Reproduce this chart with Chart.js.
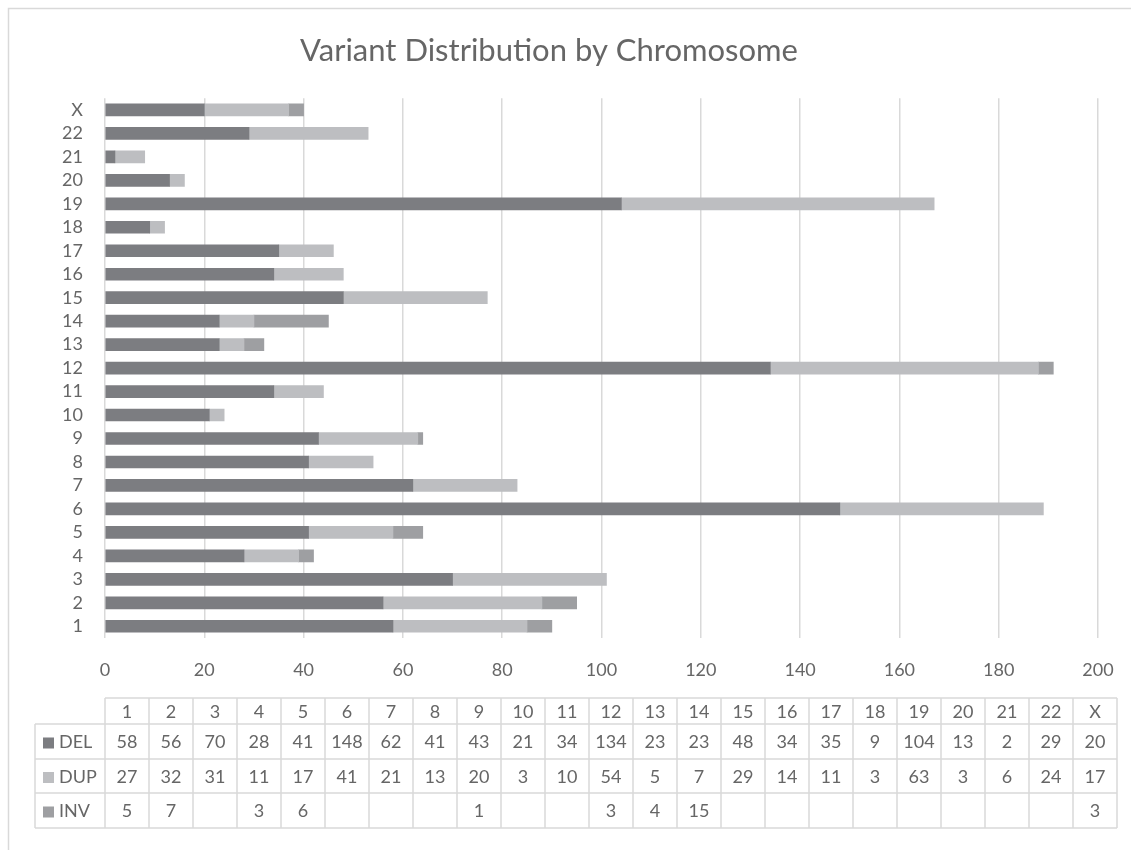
<!DOCTYPE html>
<html>
<head>
<meta charset="utf-8">
<script src="https://cdn.jsdelivr.net/npm/chart.js@4"></script>
<style>
    html, body { margin: 0; padding: 0; background: #fff; }
    #wrap { width: 1131px; height: 850px; position: relative; }
</style>
</head>
<body>
<div id="wrap"><canvas id="chart" width="1131" height="850"></canvas></div>
<script>
// Chart data
const chromosomes = ['1', '2', '3', '4', '5', '6', '7', '8', '9', '10', '11', '12', '13', '14', '15', '16', '17', '18', '19', '20', '21', '22', 'X'];
const delValues = [58, 56, 70, 28, 41, 148, 62, 41, 43, 21, 34, 134, 23, 23, 48, 34, 35, 9, 104, 13, 2, 29, 20];
const dupValues = [27, 32, 31, 11, 17, 41, 21, 13, 20, 3, 10, 54, 5, 7, 29, 14, 11, 3, 63, 3, 6, 24, 17];
const invValues = [5, 7, null, 3, 6, null, null, null, 1, null, null, 3, 4, 15, null, null, null, null, null, null, null, null, 3];
const xTicks = [0, 20, 40, 60, 80, 100, 120, 140, 160, 180, 200];

const textColor = '#666666';
const gridColor = '#d9d9d9';
const fontFamily = 'Lato, "Open Sans", sans-serif';

const series = [
    { label: 'DEL', data: delValues, color: '#7c7d81' },
    { label: 'DUP', data: dupValues, color: '#bdbec1' },
    { label: 'INV', data: invValues, color: '#9e9fa2' }
];

// Outer frame like the spreadsheet chart area
const framePlugin = {
    id: 'frame',
    beforeDraw(chart) {
        const ctx = chart.ctx;
        ctx.save();
        ctx.fillStyle = '#fff';
        ctx.fillRect(0, 0, chart.width, chart.height);
        ctx.strokeStyle = '#d9d9d9';
        ctx.lineWidth = 1.5;
        ctx.strokeRect(8.5, 8.5, chart.width + 20, chart.height + 20);
        ctx.restore();
    }
};

// Data table under the axis
const dataTablePlugin = {
    id: 'dataTable',
    afterDraw(chart) {
        const ctx = chart.ctx;
        const left = chart.chartArea.left;
        const colW = 44;
        const keyLeft = 35;
        const top = 698;
        const rowH = [26, 35, 34, 35];
        const right = left + colW * chromosomes.length;

        ctx.save();
        ctx.strokeStyle = '#d9d9d9';
        ctx.lineWidth = 1.5;
        ctx.fillStyle = textColor;
        ctx.font = '18px ' + fontFamily;
        ctx.textAlign = 'center';
        ctx.textBaseline = 'middle';

        // horizontal lines
        let y = top;
        const rowTops = [];
        for (let r = 0; r <= rowH.length; r++) {
            rowTops.push(y);
            ctx.beginPath();
            ctx.moveTo(r === 0 ? left : keyLeft, y);
            ctx.lineTo(right, y);
            ctx.stroke();
            if (r < rowH.length) y += rowH[r];
        }
        const bottom = y;

        // vertical lines
        for (let c = 0; c <= chromosomes.length; c++) {
            const x = left + c * colW;
            ctx.beginPath();
            ctx.moveTo(x, top);
            ctx.lineTo(x, bottom);
            ctx.stroke();
        }
        ctx.beginPath();
        ctx.moveTo(keyLeft, rowTops[1]);
        ctx.lineTo(keyLeft, bottom);
        ctx.stroke();

        // header
        chromosomes.forEach((c, i) => {
            ctx.fillText(c, left + i * colW + colW / 2, (rowTops[0] + rowTops[1]) / 2 + 1);
        });

        // series rows
        series.forEach((s, r) => {
            const cy = (rowTops[r + 1] + rowTops[r + 2]) / 2 + 1;
            ctx.fillStyle = s.color;
            ctx.fillRect(keyLeft + 8, cy - 5, 11, 11);
            ctx.fillStyle = textColor;
            ctx.textAlign = 'left';
            ctx.fillText(s.label, keyLeft + 24, cy);
            ctx.textAlign = 'center';
            s.data.forEach((v, i) => {
                if (v !== null) ctx.fillText(String(v), left + i * colW + colW / 2, cy);
            });
        });
        ctx.restore();
    }
};

const ctx = document.getElementById('chart').getContext('2d');
new Chart(ctx, {
    type: 'bar',
    data: {
        labels: chromosomes,
        datasets: series.map(s => ({
            label: s.label,
            data: s.data,
            backgroundColor: s.color,
            borderWidth: 0,
            barThickness: 12
        }))
    },
    options: {
        indexAxis: 'y',
        responsive: false,
        animation: false,
        layout: { padding: { left: 0, right: 33, top: 0, bottom: 0 } },
        plugins: {
            legend: { display: false },
            tooltip: { enabled: false },
            title: {
                display: true,
                text: 'Variant Distribution by Chromosome',
                color: textColor,
                font: { family: fontFamily, size: 31, weight: 'normal' },
                padding: { top: 32, bottom: 29 }
            }
        },
        scales: {
            x: {
                stacked: true,
                min: 0,
                max: 200,
                afterBuildTicks: scale => {
                    scale.ticks = xTicks.map(v => ({ value: v }));
                },
                afterFit: scale => {
                    scale.height = 212;
                    scale.paddingLeft = 0;
                    scale.paddingRight = 0;
                },
                grid: { color: gridColor, lineWidth: 1.5, drawTicks: false },
                border: { display: false },
                ticks: {
                    color: textColor,
                    padding: 21,
                    font: { family: fontFamily, size: 18 },
                    maxRotation: 0
                }
            },
            y: {
                stacked: true,
                reverse: true,
                afterFit: scale => { scale.width = 105; },
                grid: { display: false, drawTicks: false },
                border: { display: false },
                ticks: {
                    color: textColor,
                    padding: 22,
                    autoSkip: false,
                    font: { family: fontFamily, size: 18 }
                }
            }
        }
    },
    plugins: [framePlugin, dataTablePlugin]
});
</script>
</body>
</html>
